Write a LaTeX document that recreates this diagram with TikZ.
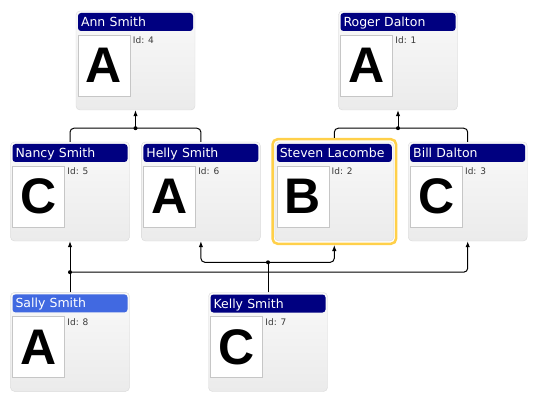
\documentclass[tikz,border=0pt]{standalone}
\usepackage{fontspec}
\usepackage{xcolor}
\usepackage{tikz}
\usetikzlibrary{positioning, arrows.meta, calc}
\setmainfont{DejaVu Sans}
\newfontfamily\letterfont{Liberation Sans}
\definecolor{cardnavy}{HTML}{000080}
\definecolor{cardblue}{HTML}{4169E1}
\definecolor{cardgold}{HTML}{FFD04A}
\definecolor{cardline}{HTML}{D9D9D9}
\definecolor{cardtop}{HTML}{F9F9F9}
\definecolor{cardbottom}{HTML}{EBEBEB}
\definecolor{photoline}{HTML}{C6C6C6}
\definecolor{idgray}{HTML}{3A3A3A}

\begin{document}
\begin{tikzpicture}[x=1pt, y=-1pt,
  card/.style={
    rectangle, rounded corners=4pt, draw=cardline,
    top color=cardtop, bottom color=cardbottom,
    minimum width=119pt, minimum height=99pt, inner sep=0pt
  },
  highlight/.style={
    rectangle, rounded corners=5pt, draw=cardgold, line width=2.5pt,
    minimum width=123.5pt, minimum height=104.5pt, inner sep=0pt
  },
  namebar/.style={
    anchor=north west, rectangle, rounded corners=3pt, fill=#1,
    text=white, font=\fontsize{12.5}{14}\selectfont,
    minimum width=115pt, minimum height=18pt,
    text width=109pt, align=left, inner xsep=3pt, inner ysep=0pt,
    text height=9pt, text depth=0pt
  },
  photo/.style={
    anchor=north west, rectangle, draw=photoline, fill=white,
    minimum width=52pt, minimum height=61pt, inner sep=0pt,
    text depth=-1.5pt,
    font=\letterfont\bfseries\fontsize{50}{50}\selectfont
  },
  idtext/.style={anchor=north west, inner sep=0pt, text=idgray,
    font=\fontsize{9}{10}\selectfont},
  conn/.style={line width=1pt, rounded corners=4pt},
  arr/.style={-{Latex[length=6pt, width=4.5pt]}, line width=1pt,
    rounded corners=4pt},
  dot/.style={circle, fill=black, inner sep=0pt, minimum size=4pt},
]
\useasboundingbox (0,0) rectangle (537,403);

% Ann Smith
\node[card] (ann) at (135.5,60.5) {};
\node[namebar=cardnavy] (ann-n) at ([xshift=2pt,yshift=-2pt]ann.north west) {Ann Smith};
\node[photo] (ann-p) at ([xshift=2pt,yshift=-24pt]ann.north west) {A};
\node[idtext] (ann-i) at ([xshift=2.5pt,yshift=-2pt]ann-p.north east) {Id: 4};

% Roger Dalton
\node[card] (roger) at (398,60.5) {};
\node[namebar=cardnavy] (roger-n) at ([xshift=2pt,yshift=-2pt]roger.north west) {Roger Dalton};
\node[photo] (roger-p) at ([xshift=2pt,yshift=-24pt]roger.north west) {A};
\node[idtext] (roger-i) at ([xshift=2.5pt,yshift=-2pt]roger-p.north east) {Id: 1};

% Nancy Smith
\node[card] (nancy) at (70,191.5) {};
\node[namebar=cardnavy] (nancy-n) at ([xshift=2pt,yshift=-2pt]nancy.north west) {Nancy Smith};
\node[photo] (nancy-p) at ([xshift=2pt,yshift=-24pt]nancy.north west) {C};
\node[idtext] (nancy-i) at ([xshift=2.5pt,yshift=-2pt]nancy-p.north east) {Id: 5};

% Helly Smith
\node[card, right=11.5pt of nancy] (helly) {};
\node[namebar=cardnavy] (helly-n) at ([xshift=2pt,yshift=-2pt]helly.north west) {Helly Smith};
\node[photo] (helly-p) at ([xshift=2pt,yshift=-24pt]helly.north west) {A};
\node[idtext] (helly-i) at ([xshift=2.5pt,yshift=-2pt]helly-p.north east) {Id: 6};

% Steven Lacombe
\node[card, right=14pt of helly] (steven) {};
\node[highlight] (steven-h) at (steven) {};
\node[namebar=cardnavy] (steven-n) at ([xshift=2pt,yshift=-2pt]steven.north west) {Steven Lacombe};
\node[photo] (steven-p) at ([xshift=2pt,yshift=-24pt]steven.north west) {B};
\node[idtext] (steven-i) at ([xshift=2.5pt,yshift=-2pt]steven-p.north east) {Id: 2};

% Bill Dalton
\node[card, right=14pt of steven] (bill) {};
\node[namebar=cardnavy] (bill-n) at ([xshift=2pt,yshift=-2pt]bill.north west) {Bill Dalton};
\node[photo] (bill-p) at ([xshift=2pt,yshift=-24pt]bill.north west) {C};
\node[idtext] (bill-i) at ([xshift=2.5pt,yshift=-2pt]bill-p.north east) {Id: 3};

% Sally Smith
\node[card, below=51pt of nancy] (sally) {};
\node[namebar=cardblue] (sally-n) at ([xshift=2pt,yshift=-2pt]sally.north west) {Sally Smith};
\node[photo] (sally-p) at ([xshift=2pt,yshift=-24pt]sally.north west) {A};
\node[idtext] (sally-i) at ([xshift=2.5pt,yshift=-2pt]sally-p.north east) {Id: 8};

% Kelly Smith
\node[card] (kelly) at (268,342) {};
\node[namebar=cardnavy] (kelly-n) at ([xshift=2pt,yshift=-2pt]kelly.north west) {Kelly Smith};
\node[photo] (kelly-p) at ([xshift=2pt,yshift=-24pt]kelly.north west) {C};
\node[idtext] (kelly-i) at ([xshift=2.5pt,yshift=-2pt]kelly-p.north east) {Id: 7};

% Junctions
\coordinate (ann-j) at ([yshift=-18pt]ann.south);
\coordinate (roger-j) at ([yshift=-18pt]roger.south);
\coordinate (sally-j) at ([yshift=20pt]sally.north);
\coordinate (kelly-j) at ([yshift=30pt]kelly.north);

% Connectors
\draw[conn] (nancy.north) |- (ann-j) -| (helly.north);
\draw[arr] (ann-j) -- (ann.south);
\draw[conn] (steven-h.north) |- (roger-j) -| (bill.north);
\draw[arr] (roger-j) -- (roger.south);
\draw[arr] (sally.north) -- (nancy.south);
\draw[arr] (sally-j) -| (bill.south);
\draw[conn] (kelly.north) -- (kelly-j);
\draw[arr] (kelly-j) -| (helly.south);
\draw[arr] (kelly-j) -| (steven-h.south);

% Dots
\node[dot] at (ann-j) {};
\node[dot] at (roger-j) {};
\node[dot] at (sally-j) {};
\node[dot] at (kelly-j) {};

\end{tikzpicture}
\end{document}
